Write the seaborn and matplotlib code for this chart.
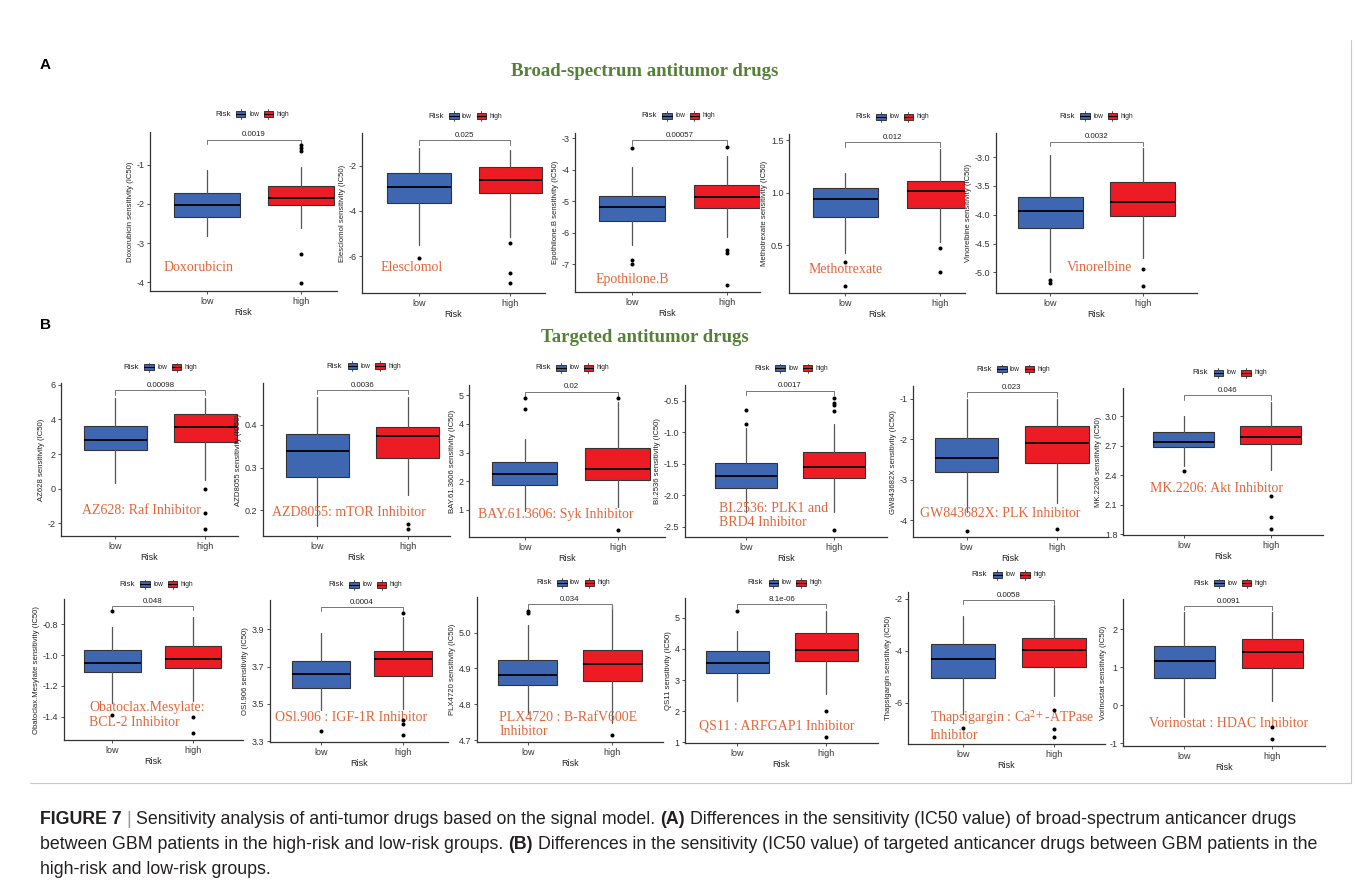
import numpy as np
import pandas as pd
import matplotlib
matplotlib.use("Agg")
import matplotlib.pyplot as plt
import seaborn as sns
from matplotlib.patches import Rectangle
from matplotlib.lines import Line2D
from matplotlib import transforms
from matplotlib import font_manager as fm

# ---------------- data ----------------
drugs = ["Doxorubicin", "Elesclomol", "Epothilone.B", "Methotrexate", "Vinorelbine",
         "AZ628", "AZD8055", "BAY.61.3606", "BI.2536", "GW843682X", "MK.2206",
         "Obatoclax.Mesylate", "OSI.906", "PLX4720", "QS11", "Thapsigargin", "Vorinostat"]
ylabels = [d + " sensitivity (IC50)" for d in drugs]
pvals = ["0.0019", "0.025", "0.00057", "0.012", "0.0032",
         "0.00098", "0.0036", "0.02", "0.0017", "0.023", "0.046",
         "0.048", "0.0004", "0.034", "8.1e-06", "0.0058", "0.0091"]
groups = ["low", "high"]

# low-risk group: lower whisker, Q1, median, Q3, upper whisker
low_whislo = [-2.83, -5.51, -6.37, 0.427, -5.00, 0.35, 0.163, 0.95, -2.26, -3.79, 2.49, -1.31, 3.465, 4.774, 2.31, -6.41, -0.30]
low_q1 = [-2.33, -3.63, -5.62, 0.773, -4.23, 2.24, 0.277, 1.86, -1.88, -2.82, 2.683, -1.109, 3.586, 4.854, 3.215, -5.03, 0.728]
low_med = [-2.04, -2.96, -5.18, 0.944, -3.94, 2.80, 0.339, 2.26, -1.69, -2.47, 2.744, -1.053, 3.661, 4.882, 3.548, -4.31, 1.149]
low_q3 = [-1.72, -2.32, -4.83, 1.05, -3.69, 3.61, 0.379, 2.68, -1.49, -1.97, 2.843, -0.968, 3.731, 4.924, 3.946, -3.75, 1.544]
low_whishi = [-1.14, -1.22, -3.92, 1.19, -2.96, 5.23, 0.466, 3.49, -0.93, -1.00, 3.00, -0.819, 3.878, 5.021, 4.59, -2.68, 2.44]
low_out = [[], [-6.06], [-3.30, -6.86, -7.00], [0.34, 0.11], [-5.13, -5.19], [], [],
           [4.90, 4.51], [-0.65, -0.87], [-4.26], [2.44], [-0.718, -1.385], [3.354],
           [5.061, 5.054], [5.215], [-6.98], []]

# high-risk group
high_whislo = [-2.61, -5.13, -6.14, 0.53, -4.76, 0.51, 0.236, 1.10, -2.26, -3.58, 2.455, -1.30, 3.474, 4.748, 2.548, -5.74, 0.114]
high_q1 = [-2.03, -3.19, -5.22, 0.859, -4.02, 2.72, 0.323, 2.04, -1.72, -2.58, 2.714, -1.087, 3.652, 4.866, 3.624, -4.62, 0.991]
high_med = [-1.84, -2.62, -4.85, 1.014, -3.78, 3.55, 0.373, 2.44, -1.55, -2.10, 2.785, -1.027, 3.740, 4.911, 3.968, -3.97, 1.404]
high_q3 = [-1.55, -2.04, -4.48, 1.11, -3.43, 4.30, 0.396, 3.17, -1.32, -1.67, 2.898, -0.940, 3.785, 4.952, 4.505, -3.51, 1.746]
high_whishi = [-1.06, -1.29, -3.58, 1.42, -2.84, 5.23, 0.466, 4.78, -0.87, -1.00, 3.15, -0.755, 3.968, 5.073, 5.237, -2.23, 2.44]
high_out = [[-0.50, -0.58, -0.65, -3.28, -4.02], [-5.40, -6.72, -7.16], [-3.28, -6.54, -6.65, -7.66],
            [0.475, 0.246], [-4.95, -5.23], [0.01, -1.38, -2.32], [0.168, 0.156], [4.90, 0.29],
            [-0.46, -0.53, -0.57, -0.66, -2.55], [-4.22], [2.19, 1.974, 1.85], [-1.398, -1.506],
            [3.99, 3.415, 3.393, 3.334], [4.714], [2.0, 1.172], [-6.26, -7.01, -7.33], [-0.561, -0.895]]

bracket_y = [-0.36, -0.88, -3.07, 1.484, -2.73, 5.67, 0.482, 5.13, -0.34, -0.84, 3.215,
             -0.681, 4.022, 5.079, 5.45, -2.04, 2.614]

yticks = [[-4, -3, -2, -1], [-6, -4, -2], [-7, -6, -5, -4, -3], [0.5, 1.0, 1.5],
          [-5.0, -4.5, -4.0, -3.5, -3.0], [-2, 0, 2, 4, 6], [0.2, 0.3, 0.4], [1, 2, 3, 4, 5],
          [-2.5, -2.0, -1.5, -1.0, -0.5], [-4, -3, -2, -1], [1.8, 2.1, 2.4, 2.7, 3.0],
          [-1.4, -1.2, -1.0, -0.8], [3.3, 3.5, 3.7, 3.9], [4.7, 4.8, 4.9, 5.0], [1, 2, 3, 4, 5],
          [-6, -4, -2], [-1, 0, 1, 2]]
ytick_fmt = ["{:.0f}", "{:.0f}", "{:.0f}", "{:.1f}", "{:.1f}", "{:.0f}", "{:.1f}", "{:.0f}",
             "{:.1f}", "{:.0f}", "{:.1f}", "{:.1f}", "{:.1f}", "{:.1f}", "{:.0f}", "{:.0f}", "{:.0f}"]

drug_notes = ["Doxorubicin", "Elesclomol", "Epothilone.B", "Methotrexate", "Vinorelbine",
              "AZ628: Raf Inhibitor", "AZD8055: mTOR Inhibitor", "BAY.61.3606: Syk Inhibitor",
              "BI.2536: PLK1 and\nBRD4 Inhibitor", "GW843682X: PLK Inhibitor", "MK.2206: Akt Inhibitor",
              "Obatoclax.Mesylate:\nBCL-2 Inhibitor", "OSl.906 : IGF-1R Inhibitor",
              "PLX4720 : B-RafV600E\nInhibitor", "QS11 : ARFGAP1 Inhibitor",
              "Thapsigargin : Ca$^{2+}$-ATPase\nInhibitor", "Vorinostat : HDAC Inhibitor"]

# ---------------- layout (pixels in the 1355x883 figure) ----------------
W, H = 1355, 883
axes_px = [(150, 132, 337, 291), (362, 133, 545, 293), (575, 133, 760, 292), (789, 134, 965, 293),
           (996, 133, 1197, 293),
           (61, 383, 238, 536), (263, 383, 450, 536), (469, 385, 665, 537), (685, 385, 887, 537),
           (913, 386, 1108, 537), (1123, 388, 1323, 535),
           (64, 599, 243, 740), (270, 600, 448, 742), (477, 597, 663, 742), (685, 598, 878, 743),
           (908, 592, 1105, 744), (1123, 599, 1325, 746)]
ylims = [(-4.22, -0.167), (-7.62, -0.56), (-7.87, -2.84), (0.046, 1.56), (-5.36, -2.58),
         (-2.73, 6.1), (0.14, 0.498), (0.05, 5.36), (-2.66, -0.25), (-4.42, -0.68), (1.79, 3.29),
         (-1.549, -0.638), (3.295, 4.058), (4.695, 5.099), (0.968, 5.645), (-7.58, -1.74), (-1.07, 2.79)]
xlims = [(-0.6, 1.38), (-0.63, 1.38), (-0.6, 1.35), (-0.6, 1.27), (-0.59, 1.59),
         (-0.6, 1.36), (-0.6, 1.47), (-0.6, 1.51), (-0.69, 1.6), (-0.59, 1.56), (-0.70, 1.6),
         (-0.6, 1.62), (-0.62, 1.55), (-0.6, 1.6), (-0.59, 1.58), (-0.6, 1.56), (-0.7, 1.6)]
note_pos = [(0.07, -3.61), (0.10, -6.51), (0.11, -7.48), (0.11, 0.268), (0.35, -4.92),
            (0.12, -1.28), (0.05, 0.195), (0.045, 0.83), (0.17, -2.32), (0.034, -3.85), (0.136, 2.26),
            (0.14, -1.387), (0.028, 3.428), (0.12, 4.744), (0.07, 1.505), (0.11, -6.86), (0.127, -0.474)]
legend_px = [(215, 114), (428, 116), (641, 115.7), (855, 116.7), (1059, 116),
             (123.3, 367.3), (326.7, 366), (535, 367.7), (754.3, 368.3), (976, 369.3), (1192.7, 372.7),
             (119.3, 584.3), (328.3, 585), (536, 582.7), (747.7, 582.7), (971.7, 575), (1193.3, 583.3)]

BLUE = "#3F67B1"
RED = "#ED1C24"
ORANGE = "#E2653A"
GREEN = "#538135"
DARK = "#333333"

sns.set_theme(style="white")
plt.rcParams["font.family"] = ["Liberation Sans", "DejaVu Sans"]
plt.rcParams["mathtext.fontset"] = "stix"

fig = plt.figure(figsize=(W / 100, H / 100), dpi=100)
fig.patch.set_facecolor("white")


def fxy(x, y):
    return x / W, 1 - y / H


def draw_legend(x, y):
    fig.text(*fxy(x, y), "Risk", fontsize=5.8, ha="left", va="center", color="#222222")
    for dx, col, lab in [(21, BLUE, "low"), (48.5, RED, "high")]:
        kx, kw, kh = x + dx, 9.5, 6.0
        fig.add_artist(Rectangle(fxy(kx, y + kh / 2), kw / W, kh / H, transform=fig.transFigure,
                                 facecolor=col, edgecolor="#222222", linewidth=0.6))
        fig.add_artist(Line2D([kx / W, (kx + kw) / W], [1 - y / H] * 2, transform=fig.transFigure,
                              color="black", linewidth=0.8))
        for y0, y1 in [(y - kh / 2 - 1.8, y - kh / 2), (y + kh / 2, y + kh / 2 + 1.8)]:
            fig.add_artist(Line2D([(kx + kw / 2) / W] * 2, [1 - y0 / H, 1 - y1 / H],
                                  transform=fig.transFigure, color="#333333", linewidth=0.6))
        fig.text(*fxy(kx + kw + 3.5, y), lab, fontsize=4.8, ha="left", va="center", color="#222222")


for i in range(len(drugs)):
    l, t, r, b = axes_px[i]
    ax = fig.add_axes([l / W, 1 - b / H, (r - l) / W, (b - t) / H])
    stats = [dict(whislo=low_whislo[i], q1=low_q1[i], med=low_med[i], q3=low_q3[i],
                  whishi=low_whishi[i], fliers=[]),
             dict(whislo=high_whislo[i], q1=high_q1[i], med=high_med[i], q3=high_q3[i],
                  whishi=high_whishi[i], fliers=[])]
    bp = ax.bxp(stats, positions=[0, 1], widths=0.7, patch_artist=True, showcaps=False,
                showfliers=False,
                boxprops=dict(edgecolor=DARK, linewidth=0.8),
                medianprops=dict(color="black", linewidth=1.3),
                whiskerprops=dict(color="#555555", linewidth=0.9))
    for patch, col in zip(bp["boxes"], [BLUE, RED]):
        patch.set_facecolor(col)
    out_df = pd.DataFrame({"Risk": ["low"] * len(low_out[i]) + ["high"] * len(high_out[i]),
                           "IC50": low_out[i] + high_out[i]})
    sns.stripplot(data=out_df, x="Risk", y="IC50", order=groups, jitter=False, color="black",
                  size=2.9, linewidth=0, ax=ax, zorder=4)

    ax.set_xlim(*xlims[i])
    ax.set_ylim(*ylims[i])
    ax.set_xticks([0, 1])
    ax.set_xticklabels(groups)
    ax.set_yticks(yticks[i])
    ax.set_yticklabels([ytick_fmt[i].format(v) for v in yticks[i]])
    ax.set_xlabel("Risk", fontsize=6.5, labelpad=1.5, color="#222222")
    ax.set_ylabel(ylabels[i], fontsize=5.6, labelpad=2, color="#222222")
    for s in ["top", "right"]:
        ax.spines[s].set_visible(False)
    for s in ["left", "bottom"]:
        ax.spines[s].set_color(DARK)
        ax.spines[s].set_linewidth(0.9)
    ax.tick_params(axis="both", direction="out", length=2.5, width=0.6, labelsize=6.5, pad=1.5,
                   color=DARK, labelcolor="#333333", left=True, bottom=True)
    ax.grid(False)

    yr = ylims[i][1] - ylims[i][0]
    yb = bracket_y[i]
    tip = 0.03 * yr
    ax.plot([0, 0, 1, 1], [yb - tip, yb, yb, yb - tip], color="#777777", linewidth=0.7)
    ax.text(0.5, yb + 0.008 * yr, pvals[i], ha="center", va="bottom", fontsize=5.7, color="#222222")

    trans = transforms.blended_transform_factory(ax.transAxes, ax.transData)
    ax.text(note_pos[i][0], note_pos[i][1], drug_notes[i], transform=trans, fontsize=10,
            color=ORANGE, family=["Liberation Serif", "DejaVu Serif"], ha="left", va="center",
            linespacing=1.15)

    draw_legend(*legend_px[i])

# panel letters and section titles
fig.text(*fxy(40, 65), "A", fontsize=11, fontweight="bold", ha="left", va="center", color="black")
fig.text(*fxy(40, 325), "B", fontsize=11, fontweight="bold", ha="left", va="center", color="black")
fig.text(*fxy(645, 72), "Broad-spectrum antitumor drugs", fontsize=13.5, fontweight="bold",
         family=["Liberation Serif"], color=GREEN, ha="center", va="center")
fig.text(*fxy(645, 337), "Targeted antitumor drugs", fontsize=13.5, fontweight="bold",
         family=["Liberation Serif"], color=GREEN, ha="center", va="center")

# frame lines
fig.add_artist(Line2D([30 / W, 1351 / W], [1 - 783 / H] * 2, transform=fig.transFigure,
                      color="#c8c8c8", linewidth=0.8))
fig.add_artist(Line2D([1351 / W] * 2, [1 - 40 / H, 1 - 783 / H], transform=fig.transFigure,
                      color="#c8c8c8", linewidth=0.8))

# caption
avail = {f.name for f in fm.fontManager.ttflist}
cap_font = "Liberation Sans Narrow" if "Liberation Sans Narrow" in avail else "Liberation Sans"
renderer = fig.canvas.get_renderer()
CAPC = "#231f20"

cap_lines = [
    [("FIGURE 7", "bold", CAPC), ("|", "normal", "#9a9a9a"),
     ("Sensitivity analysis of anti-tumor drugs based on the signal model.", "normal", CAPC),
     ("(A)", "bold", CAPC),
     ("Differences in the sensitivity (IC50 value) of broad-spectrum anticancer drugs", "normal", CAPC)],
    [("between GBM patients in the high-risk and low-risk groups.", "normal", CAPC), ("(B)", "bold", CAPC),
     ("Differences in the sensitivity (IC50 value) of targeted anticancer drugs between GBM patients in the",
      "normal", CAPC)],
    [("high-risk and low-risk groups.", "normal", CAPC)],
]


def twidth(s, size, weight):
    tt = fig.text(0, 0, s, fontsize=size, fontweight=weight, family=[cap_font, "DejaVu Sans"])
    w = tt.get_window_extent(renderer).width
    tt.remove()
    return w


def line_width(segs, size):
    sp = twidth("a a", size, "normal") - twidth("aa", size, "normal")
    return sum(twidth(s, size, wgt) for s, wgt, _ in segs) + sp * (len(segs) - 1), sp


base = 12.0
w2, _ = line_width(cap_lines[1], base)
cap_size = base * 1282.0 / w2
cap_y = [820, 844.5, 869]
for segs, yy in zip(cap_lines, cap_y):
    x = 40.0
    _, sp = line_width(segs, cap_size)
    for s, wgt, col in segs:
        fig.text(*fxy(x, yy), s, fontsize=cap_size, fontweight=wgt, color=col,
                 family=[cap_font, "DejaVu Sans"], ha="left", va="center")
        x += twidth(s, cap_size, wgt) + sp

fig.savefig("out.png", dpi=100, facecolor="white")
